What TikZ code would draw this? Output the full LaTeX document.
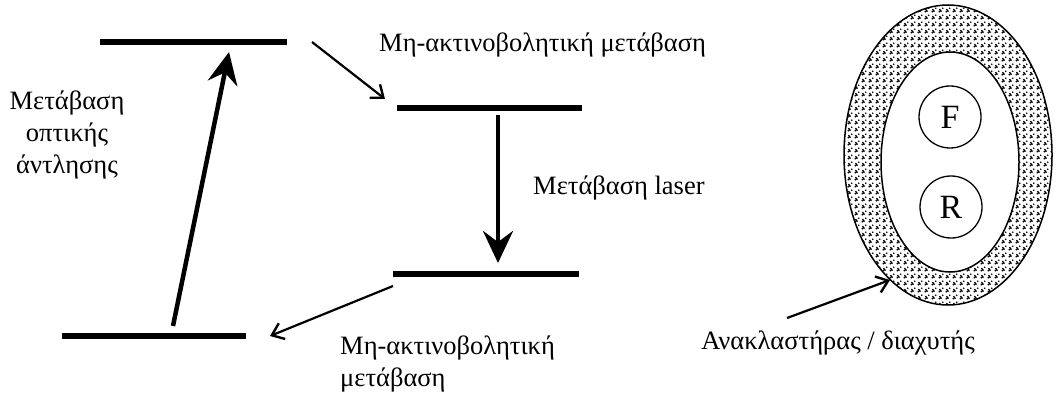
\documentclass[tikz,border=0pt]{standalone}
\usepackage{fontspec}
\setmainfont{Liberation Serif}
\usetikzlibrary{arrows.meta,patterns}
\pgfdeclarepatternformonly{speckle}{\pgfpointorigin}{\pgfpoint{7pt}{7pt}}{\pgfpoint{7pt}{7pt}}{%
  \pgfpathcircle{\pgfpoint{1.5pt}{1.5pt}}{1.1pt}%
  \pgfpathcircle{\pgfpoint{3.5pt}{2.2pt}}{1.1pt}%
  \pgfpathcircle{\pgfpoint{2.2pt}{3.8pt}}{1.1pt}%
  \pgfpathcircle{\pgfpoint{5.3pt}{5.4pt}}{1.0pt}%
  \pgfusepath{fill}}
\begin{document}
\begin{tikzpicture}[x=1pt,y=-1pt,
  level/.style={line width=5.5pt},
  bigarrow/.style={line width=4.5pt,-{Stealth[length=32pt,width=30pt,inset=11pt]}},
  thinarrow/.style={line width=2.2pt,-{Straight Barb[length=11pt,width=17pt,line width=2.4pt]}},
  lbl/.style={font=\fontsize{26.5}{32}\selectfont, inner sep=0pt},
  ring/.style={circle, draw, line width=1.3pt, minimum size=62pt, inner sep=0pt, font=\fontsize{34}{34}\selectfont}
]
\useasboundingbox (0,0) rectangle (1056,398);
% energy levels
\coordinate (A1) at (100,42);  \coordinate (A2) at (287,42);
\coordinate (B1) at (397,108); \coordinate (B2) at (582,108);
\coordinate (C1) at (393,274); \coordinate (C2) at (579,274);
\coordinate (D1) at (62,336);  \coordinate (D2) at (246,336);
\draw[level] (A1) -- (A2);
\draw[level] (B1) -- (B2);
\draw[level] (C1) -- (C2);
\draw[level] (D1) -- (D2);
% transitions
\coordinate (p0) at (173,326); \coordinate (p1) at (229,52);
\draw[bigarrow] (p0) -- (p1);
\coordinate (l0) at (498,115); \coordinate (l1) at (498,263);
\draw[bigarrow] (l0) -- (l1);
\coordinate (n0) at (312,42); \coordinate (n1) at (385,99);
\draw[thinarrow] (n0) -- (n1);
\coordinate (m0) at (393,286); \coordinate (m1) at (270,336);
\draw[thinarrow] (m0) -- (m1);
% labels
\node[lbl, anchor=west] (t1) at (379,45) {Μη-ακτινοβολητική μετάβαση};
\node[lbl, anchor=west] (t2) at (533,188) {Μετάβαση laser};
\node[lbl, align=left, anchor=north west] (t3) at (340,336) {Μη-ακτινοβολητική\\μετάβαση};
\node[lbl, align=center] (t4) at (67,135) {Μετάβαση\\οπτικής\\άντλησης};
% reflector
\fill[pattern=speckle, even odd rule] (948,155) ellipse [x radius=104, y radius=150] (950,162) ellipse [x radius=69, y radius=110];
\draw[line width=1.5pt] (948,155) ellipse [x radius=104, y radius=150];
\draw[line width=1.5pt] (950,162) ellipse [x radius=69, y radius=110];
\node[ring] (F) at (950,117) {F};
\node[ring] (R) at (951,207) {R};
\coordinate (r0) at (787,318); \coordinate (r1) at (890,280);
\draw[thinarrow] (r0) -- (r1);
\node[lbl] (t5) at (838,343) {Ανακλαστήρας / διαχυτής};
\end{tikzpicture}
\end{document}
